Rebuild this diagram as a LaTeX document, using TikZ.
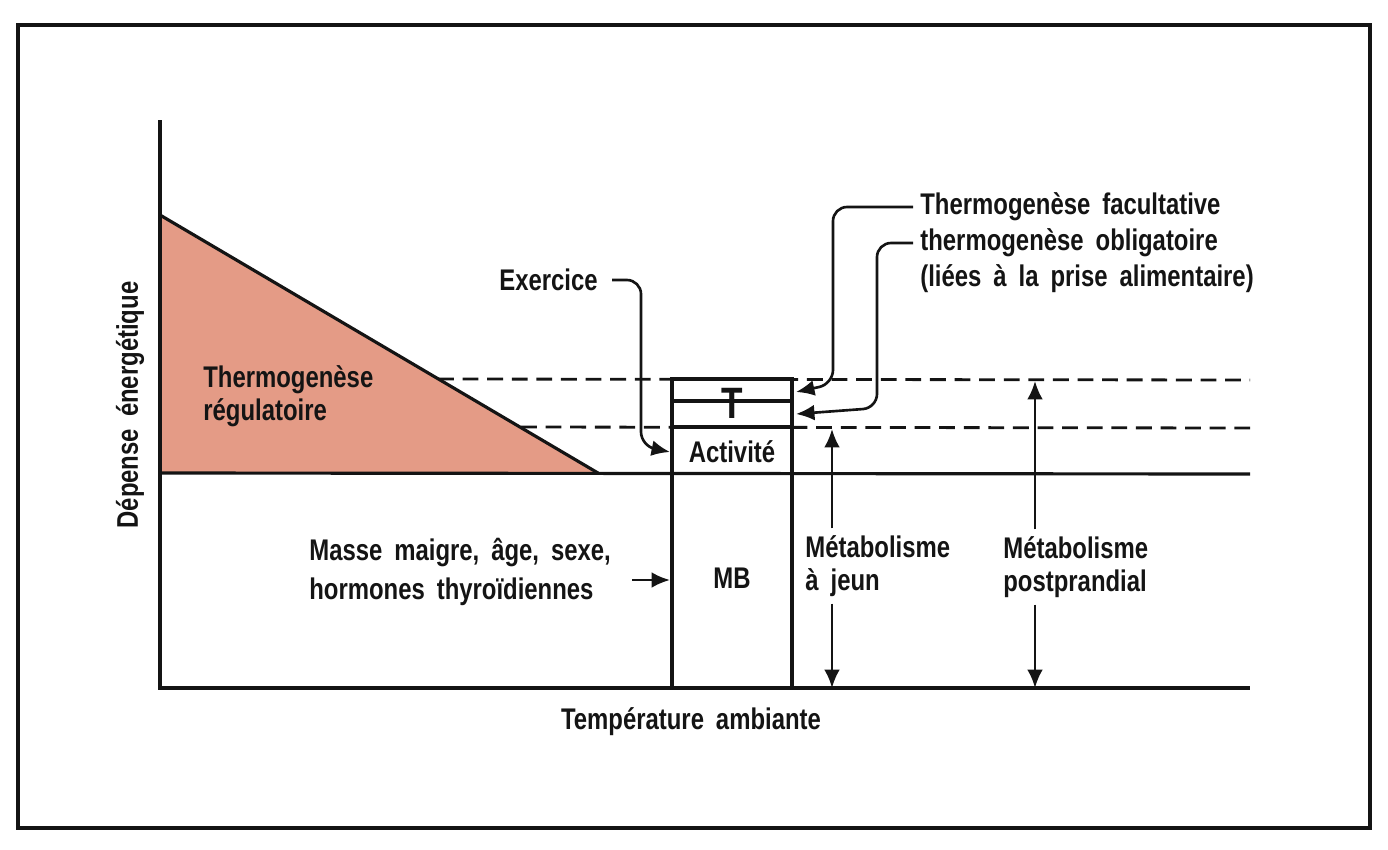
\documentclass[tikz,border=0pt]{standalone}
\usepackage{fontspec}
\setmainfont{Liberation Sans}[FakeStretch=0.8,WordSpace=1.8]
\usetikzlibrary{arrows.meta,positioning,calc}
\definecolor{ink}{RGB}{20,20,20}
\definecolor{salmon}{RGB}{228,155,134}
\tikzset{
  axisline/.style={line width=1.8pt,draw=ink},
  dashline/.style={line width=1.6pt,draw=ink,dash pattern=on 9pt off 5pt},
  conn/.style={-{Latex[length=10.5pt,width=9pt]},line width=1.5pt,draw=ink,rounded corners=8pt},
  lbl/.style={font=\bfseries\fontsize{17}{18.5}\selectfont,text=ink,inner sep=0pt,align=left},
  gaplbl/.style={lbl,inner sep=4pt}
}
\begin{document}
\begin{tikzpicture}[x=0.02cm,y=-0.02cm]
  \useasboundingbox (0,0) rectangle (1388,849);
  \draw[line width=2pt,draw=ink] (18,25) rectangle (1370,828);

  % regulatory thermogenesis
  \fill[salmon] (160,215) -- (598,473) -- (160,473) -- cycle;
  \draw[axisline] (160,215) -- (598,473);

  % levels
  \draw[dashline] (438,379) -- (1250,380);
  \draw[dashline] (521,427) -- (1250,428);

  % axes
  \draw[axisline] (160,120) -- (160,688) -- (1250,688);
  \draw[axisline] (160,473) -- (1250,474);

  % the bar
  \draw[axisline] (672,688) -- (672,379) -- (792,379) -- (792,688);
  \draw[axisline] (672,401) -- (792,401);
  \draw[axisline] (672,427) -- (792,427);

  \node[lbl,anchor=west] (treg) at (203,396) {Thermogenèse\\régulatoire};
  \node[lbl,font=\bfseries\fontsize{25}{25}\selectfont] (tt) at (732,403) {T};
  \node[lbl] (act) at (732,452) {Activité};
  \node[lbl] (mb) at (732,578) {MB};

  \node[lbl,anchor=east] (exo) at (598,280) {Exercice};
  \node[gaplbl,anchor=west] (fac) at (913,207) {Thermogenèse facultative};
  \node[gaplbl,anchor=west] (obl) at (913,243) {thermogenèse obligatoire};
  \node[gaplbl,anchor=west] (liees) at (913,279) {(liées à la prise alimentaire)};
  \node[lbl,anchor=west] (masse) at (309,572) {Masse maigre, âge, sexe,\\[4pt]hormones thyroïdiennes};
  \node[gaplbl,anchor=west] (mj) at (798,566) {Métabolisme\\à jeun};
  \node[gaplbl,anchor=west] (mp) at (996,567) {Métabolisme\\postprandial};

  \node[lbl,rotate=90] (ylab) at (130,405) {Dépense énergétique};
  \node[lbl] (xlab) at (691,722) {Température ambiante};

  \coordinate (tgtF) at (796,392);
  \coordinate (tgtO) at (796,414);
  \coordinate (tgtA) at (670,452);
  \coordinate (tgtM) at (670,580);
  \coordinate (jTop) at (832,429);
  \coordinate (jBot) at (832,688);
  \coordinate (pTop) at (1035,381);
  \coordinate (pBot) at (1035,688);

  \draw[conn] (fac.west) -| (833,384) -- (tgtF);
  \draw[conn] (obl.west) -| (877,408) -- (tgtO);
  \draw[conn] (exo.east) ++(14,0) -| (641,446) -- (tgtA);
  \draw[conn,shorten <=12pt] (masse.east |- tgtM) -- (tgtM);

  \draw[conn] (mj.north -| jTop) -- (jTop);
  \draw[conn] (mj.south -| jBot) -- (jBot);
  \draw[conn] (mp.north -| pTop) -- (pTop);
  \draw[conn] (mp.south -| pBot) -- (pBot);
\end{tikzpicture}
\end{document}
